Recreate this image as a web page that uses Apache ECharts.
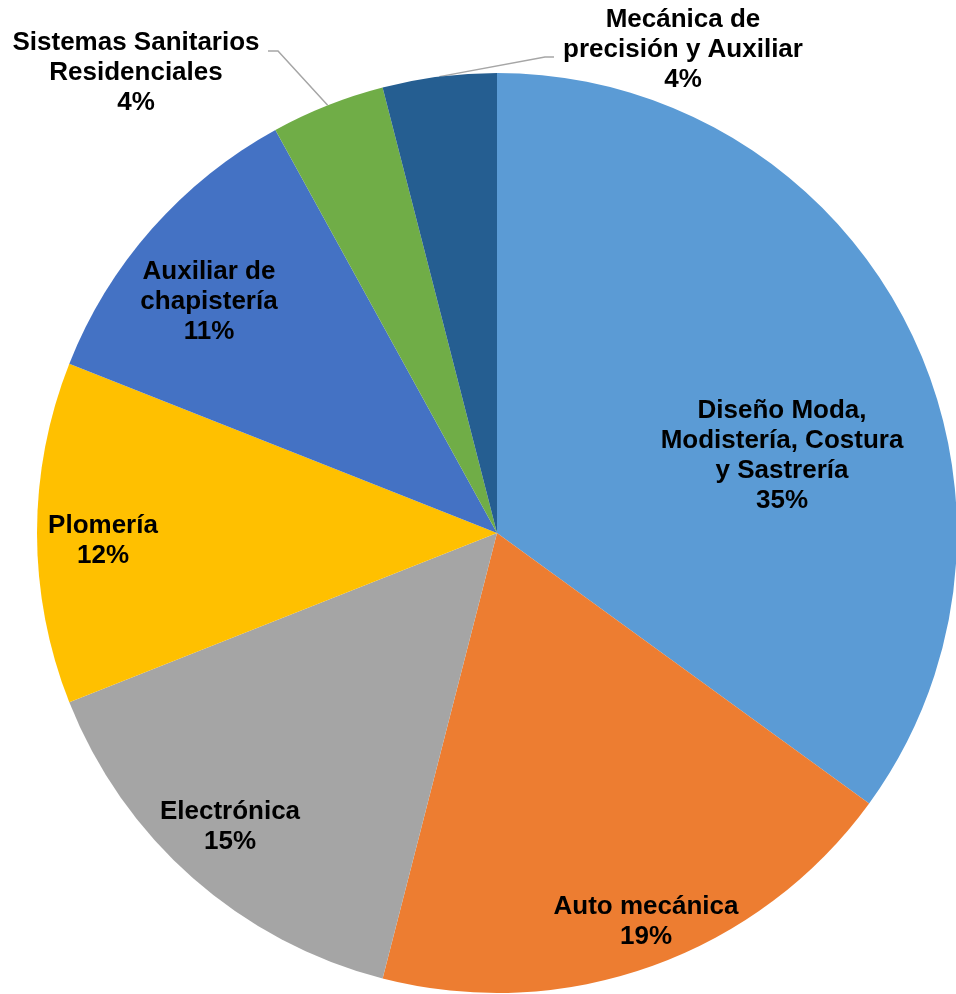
<!DOCTYPE html>
<html>
<head>
<meta charset="utf-8">
<script src="https://cdn.jsdelivr.net/npm/echarts@6/dist/echarts.min.js"></script>
<style>html,body{margin:0;padding:0;background:#fff}#c{width:956px;height:994px}</style>
</head>
<body>
<div id="c"></div>
<script>
const categories = [
  'Diseño Moda,\nModistería, Costura\ny Sastrería',
  'Auto mecánica',
  'Electrónica',
  'Plomería',
  'Auxiliar de\nchapistería',
  'Sistemas Sanitarios\nResidenciales',
  'Mecánica de\nprecisión y Auxiliar'
];
const percentages = [35, 19, 15, 12, 11, 4, 4];
const colors = ['#5B9BD5', '#ED7D31', '#A5A5A5', '#FFC000', '#4472C4', '#70AD47', '#255E91'];

// label placement (offset from pie centre, px) and leader-line bends
const labelOffset = [[285, -77], [149, 389], [-267, 294], [-394, 8], [-288, -231], [-361, -460], [186, -483]];
const leaderBend = {5: [[-219, -482], [-229, -482]], 6: [[48, -476], [57, -476]]};

const CX = 497, CY = 533, R = 460;

const chart = echarts.init(document.getElementById('c'), null, {renderer: 'canvas'});
chart.setOption({
  animation: false,
  series: [{
    type: 'pie',
    center: [CX, CY],
    radius: R,
    startAngle: 90,
    clockwise: true,
    avoidLabelOverlap: false,
    itemStyle: {borderWidth: 0},
    label: {
      show: true,
      position: 'outside',
      formatter: p => p.name + '\n' + p.value + '%',
      fontFamily: 'Liberation Sans, Arial, sans-serif',
      fontWeight: 'bold',
      fontSize: 26,
      lineHeight: 30,
      color: '#000',
      align: 'center'
    },
    labelLine: {show: true, lineStyle: {color: '#A6A6A6', width: 1.5}},
    labelLayout: function (params) {
      const i = params.dataIndex;
      const o = {
        x: CX + labelOffset[i][0],
        y: CY + labelOffset[i][1],
        align: 'center',
        verticalAlign: 'middle'
      };
      if (leaderBend[i] && params.labelLinePoints) {
        const p0 = params.labelLinePoints[0];
        o.labelLinePoints = [p0].concat(leaderBend[i].map(p => [CX + p[0], CY + p[1]]));
      }
      return o;
    },
    data: percentages.map((v, i) => ({
      name: categories[i],
      value: v,
      itemStyle: {color: colors[i]},
      labelLine: {show: !!leaderBend[i]}
    }))
  }]
});
</script>
</body>
</html>
